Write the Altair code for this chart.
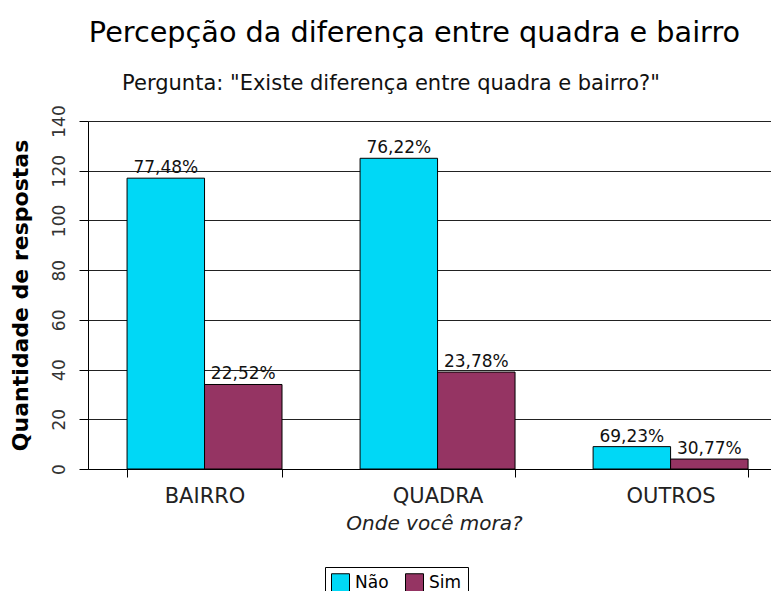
import altair as alt
import pandas as pd

categories = ["BAIRRO", "QUADRA", "OUTROS"]
nao = [117, 125, 9]
sim = [34, 39, 4]
nao_pct = ["77,48%", "76,22%", "69,23%"]
sim_pct = ["22,52%", "23,78%", "30,77%"]
series = ["Não", "Sim"]
y_ticks = [0, 20, 40, 60, 80, 100, 120, 140]
title_text = "Percepção da diferença entre quadra e bairro"
subtitle_text = 'Pergunta: "Existe diferença entre quadra e bairro?"'

rows = []
for i, c in enumerate(categories):
    rows.append({"local": c, "resp": series[0], "n": nao[i], "pct": nao_pct[i]})
    rows.append({"local": c, "resp": series[1], "n": sim[i], "pct": sim_pct[i]})
df = pd.DataFrame(rows)
sub_df = pd.DataFrame({"t": [subtitle_text]})

FONT = "DejaVu Sans"

x = alt.X(
    "local:N",
    sort=categories,
    scale=alt.Scale(paddingInner=0.335, paddingOuter=0.133, align=0.63),
    axis=alt.Axis(
        title="Onde você mora?",
        titleFontStyle="italic",
        titleFontWeight="normal",
        titleFontSize=20,
        titleColor="#222",
        titleX=346,
        titlePadding=7,
        labelAngle=0,
        labelFontSize=21,
        labelColor="#222",
        labelPadding=8,
        tickBand="extent",
        tickSize=8,
        tickColor="black",
        domainColor="black",
        grid=False,
    ),
)
xo = alt.XOffset("resp:N", sort=series, scale=alt.Scale(paddingInner=0, paddingOuter=0))
y = alt.Y(
    "n:Q",
    scale=alt.Scale(domain=[0, 140], nice=False),
    axis=alt.Axis(
        title="Quantidade de respostas",
        titleFontSize=22,
        titleFontWeight="bold",
        titleColor="black",
        titlePadding=18,
        values=y_ticks,
        labelAngle=270,
        labelAlign="center",
        labelBaseline="bottom",
        labelFontSize=17,
        labelColor="#333",
        labelPadding=11,
        tickSize=9,
        tickColor="black",
        domainColor="black",
        grid=True,
        gridColor="#222",
        gridOpacity=1,
        gridWidth=1,
    ),
)

color = alt.Color(
    "resp:N",
    sort=series,
    scale=alt.Scale(domain=series, range=["#00D8F6", "#953463"]),
    legend=alt.Legend(
        title=None,
        orient="none",
        legendX=237,
        legendY=446,
        direction="horizontal",
        symbolType="square",
        symbolSize=324,
        symbolStrokeColor="black",
        symbolStrokeWidth=1,
        symbolOpacity=1,
        labelFontSize=17,
        labelColor="black",
        labelOffset=5,
        columnPadding=14,
        strokeColor="black",
        fillColor="white",
        padding=6,
    ),
)

bars = alt.Chart(df).mark_bar(stroke="black", strokeWidth=1).encode(
    x=x, xOffset=xo, y=y, color=color
)
texts = alt.Chart(df).mark_text(baseline="alphabetic", dy=-5, fontSize=17, color="#111").encode(
    x=x, xOffset=xo, y=y, text="pct:N"
)
subtitle = alt.Chart(sub_df).mark_text(
    baseline="alphabetic", align="center", fontSize=21, color="#111"
).encode(x=alt.value(303), y=alt.value(-31), text="t:N")

chart = (
    alt.layer(bars, texts, subtitle)
    .properties(
        width=683,
        height=348,
        autosize=alt.AutoSizeParams(type="none"),
        padding={"left": 80, "top": 113, "right": 0, "bottom": 122},
        title=alt.TitleParams(
            text=title_text,
            fontSize=28.7,
            fontWeight="normal",
            color="black",
            anchor="middle",
            dx=-15,
            offset=25,
        ),
    )
    .configure(font=FONT)
    .configure_view(stroke=None)
)

chart.save("out.html", embed_options={"renderer": "svg", "actions": False})
